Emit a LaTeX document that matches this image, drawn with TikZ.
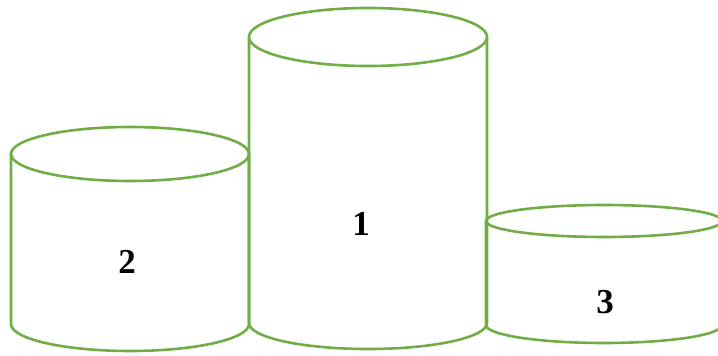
\documentclass[tikz,border=0pt]{standalone}
\usepackage{fontspec}
\setmainfont{Liberation Serif}
\definecolor{cg}{HTML}{70AD47}
\begin{document}
\begin{tikzpicture}[x=1pt,y=-1pt,
  cylline/.style={draw=cg,line width=2.6pt,line join=round},
  lbl/.style={font=\fontsize{35}{40}\selectfont\bfseries,inner sep=0pt}]
\useasboundingbox (0,0) rectangle (718,356);
\clip (0,0) rectangle (718,356);
% cylinder 2
\draw[cylline] (130,154) ellipse [x radius=119pt, y radius=27pt];
\draw[cylline] (11,154) -- (11,324) arc[start angle=180,end angle=360,x radius=119pt,y radius=27pt] -- (249,154);
% cylinder 1
\draw[cylline] (368,37) ellipse [x radius=119pt, y radius=29pt];
\draw[cylline] (249,37) -- (249,323) arc[start angle=180,end angle=360,x radius=119pt,y radius=26pt] -- (487,37);
% cylinder 3
\draw[cylline] (604,221) ellipse [x radius=118pt, y radius=16pt];
\draw[cylline] (486,221) -- (486,325) arc[start angle=180,end angle=360,x radius=118pt,y radius=18pt] -- (722,221);
% labels
\node[lbl] (l2) at (127,262) {2};
\node[lbl] (l1) at (361,224) {1};
\node[lbl] (l3) at (605,302) {3};
\end{tikzpicture}
\end{document}
